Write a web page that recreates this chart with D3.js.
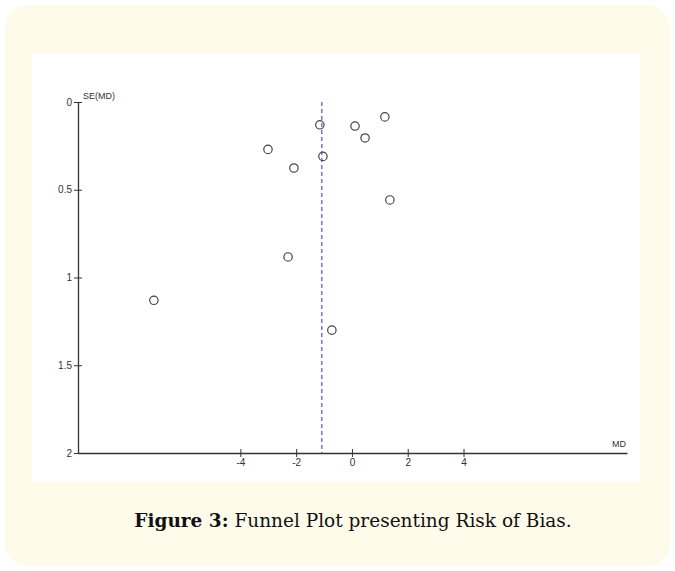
<!DOCTYPE html>
<html>
<head>
<meta charset="utf-8">
<script src="https://cdn.jsdelivr.net/npm/d3@7"></script>
<style>
  body { margin: 0; background: #fff; }
  svg { display: block; }
</style>
</head>
<body>
<svg></svg>
<script>
// study effects (mean difference) and their standard errors
const md = [-1.15, 0.11, 1.18, 0.47, -3.01, -1.04, -2.08, 1.36, -2.29, -7.1, -0.72]
const se = [0.13, 0.137, 0.085, 0.205, 0.27, 0.31, 0.376, 0.558, 0.883, 1.13, 1.30]
const pooled = -1.08
const xTicks = [-4, -2, 0, 2, 4]
const yTicks = [0, 0.5, 1, 1.5, 2]

const dims = { width: 675, height: 571 }
const svg = d3.select('svg')
  .attr('width', dims.width)
  .attr('height', dims.height)

// cream card + white plot panel
svg.append('rect')
  .attr('x', 5).attr('y', 5)
  .attr('width', 665).attr('height', 561)
  .attr('rx', 22)
  .attr('fill', '#fffbea')
svg.append('rect')
  .attr('x', 32).attr('y', 53)
  .attr('width', 608).attr('height', 429)
  .attr('fill', '#fff')

const x = d3.scaleLinear().domain([-9.82, 9.86]).range([78, 627])
const y = d3.scaleLinear().domain([0, 2]).range([102, 453])

const font = 'Arial, "Liberation Sans", sans-serif'

// y axis
const yAxis = svg.append('g')
  .attr('transform', `translate(${x.range()[0]},0)`)
  .call(d3.axisLeft(y).tickValues(yTicks).tickFormat(d3.format('')).tickSize(4).tickSizeOuter(0))
yAxis.select('.domain').attr('stroke', '#333').attr('stroke-width', 1.3)
yAxis.selectAll('.tick line').attr('stroke', '#333').attr('x2', 4).attr('x1', -4)
yAxis.selectAll('.tick text')
  .attr('x', -6)
  .attr('font-family', font).attr('font-size', 10).attr('fill', '#333')

// x axis
const xAxis = svg.append('g')
  .attr('transform', `translate(0,${y.range()[1]})`)
  .call(d3.axisBottom(x).tickValues(xTicks).tickSize(4).tickSizeOuter(0))
xAxis.select('.domain').attr('stroke', '#333').attr('stroke-width', 1.3)
xAxis.selectAll('.tick line').attr('stroke', '#333').attr('y1', -4).attr('y2', 4)
xAxis.selectAll('.tick text')
  .attr('y', 6)
  .attr('font-family', font).attr('font-size', 10).attr('fill', '#333')
  .text(d => d < 0 ? '-' + Math.abs(d) : d)

// axis titles
svg.append('text')
  .attr('x', 83).attr('y', 99)
  .attr('font-family', font).attr('font-size', 9).attr('fill', '#333')
  .text('SE(MD)')
svg.append('text')
  .attr('x', 626).attr('y', 447)
  .attr('text-anchor', 'end')
  .attr('font-family', font).attr('font-size', 9).attr('fill', '#333')
  .text('MD')

// pooled estimate line
svg.append('line')
  .attr('x1', x(pooled)).attr('x2', x(pooled))
  .attr('y1', y(0)).attr('y2', y(2))
  .attr('stroke', '#5a5ee6')
  .attr('stroke-width', 1.3)
  .attr('stroke-dasharray', '4,3')

// studies
svg.append('g').selectAll('circle')
  .data(md.map((d, i) => ({ md: d, se: se[i] })))
  .enter().append('circle')
    .attr('cx', d => x(d.md))
    .attr('cy', d => y(d.se))
    .attr('r', 4.2)
    .attr('fill', 'none')
    .attr('stroke', '#444')
    .attr('stroke-width', 1.2)

// caption
const cap = svg.append('text')
  .attr('x', 353).attr('y', 527)
  .attr('text-anchor', 'middle')
  .attr('font-family', '"DejaVu Serif", "Liberation Serif", serif')
  .attr('font-size', 18.5).attr('fill', '#111')
cap.append('tspan').attr('font-weight', 'bold').text('Figure 3:')
cap.append('tspan').text(' Funnel Plot presenting Risk of Bias.')
</script>
</body>
</html>
